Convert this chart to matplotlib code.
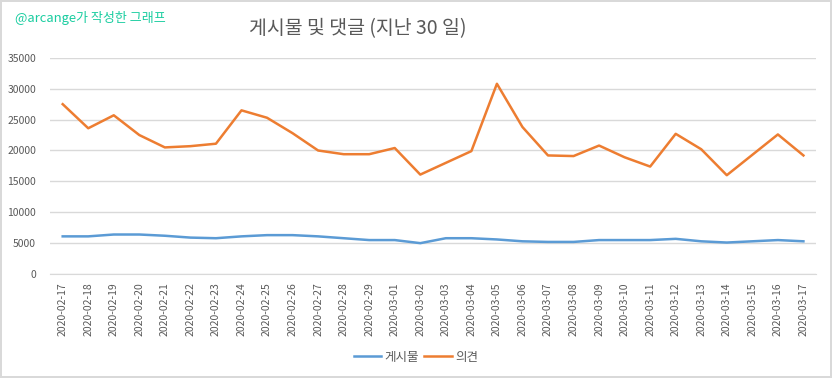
import matplotlib.pyplot as plt
import numpy as np

plt.rcParams['font.family'] = ['Noto Sans CJK KR', 'DejaVu Sans']

# Data
dates = ['2020-02-17', '2020-02-18', '2020-02-19', '2020-02-20', '2020-02-21',
         '2020-02-22', '2020-02-23', '2020-02-24', '2020-02-25', '2020-02-26',
         '2020-02-27', '2020-02-28', '2020-02-29', '2020-03-01', '2020-03-02',
         '2020-03-03', '2020-03-04', '2020-03-05', '2020-03-06', '2020-03-07',
         '2020-03-08', '2020-03-09', '2020-03-10', '2020-03-11', '2020-03-12',
         '2020-03-13', '2020-03-14', '2020-03-15', '2020-03-16', '2020-03-17']
posts = [6100, 6100, 6400, 6400, 6200, 5900, 5800, 6100, 6300, 6300,
         6100, 5800, 5500, 5500, 5000, 5800, 5800, 5600, 5300, 5200,
         5200, 5500, 5500, 5500, 5700, 5300, 5100, 5300, 5500, 5300]
comments = [27500, 23600, 25700, 22500, 20500, 20700, 21100, 26500, 25300, 22800,
            20000, 19400, 19400, 20400, 16100, 18000, 19900, 30800, 23800, 19200,
            19100, 20800, 18900, 17400, 22700, 20200, 16000, 19300, 22600, 19200]
yticks = [0, 5000, 10000, 15000, 20000, 25000, 30000, 35000]

text_color = '#595959'

fig = plt.figure(figsize=(8.32, 3.78), dpi=100)
fig.patch.set_edgecolor('#D9D9D9')
fig.patch.set_linewidth(1.5)
ax = fig.add_axes([0.06, 0.275, 0.921, 0.572])

x = np.arange(len(dates))
ax.plot(x, posts, color='#5B9BD5', linewidth=1.8, label='게시물')
ax.plot(x, comments, color='#ED7D31', linewidth=1.8, label='의견')

ax.set_xlim(-0.5, len(dates) - 0.5)
ax.set_ylim(0, 35000)
ax.set_yticks(yticks)
ax.set_yticklabels([str(v) for v in yticks])
ax.set_xticks(x)
ax.set_xticklabels(dates, rotation=90)
ax.tick_params(axis='both', length=0, labelsize=7.5, colors=text_color)
ax.tick_params(axis='x', pad=6)
ax.tick_params(axis='y', pad=10)
ax.grid(axis='y', color='#D9D9D9', linewidth=1)
ax.set_axisbelow(True)
for s in ['top', 'right', 'left']:
    ax.spines[s].set_visible(False)
ax.spines['bottom'].set_color('#D9D9D9')

# Title and watermark
fig.text(0.43, 0.925, '게시물 및 댓글 (지난 30 일)', fontsize=14, color=text_color,
         ha='center', va='center')
fig.text(0.018, 0.952, '@arcange가 작성한 그래프', fontsize=9.4, color='#1ACDA0',
         ha='left', va='center')

fig.legend(loc='center', bbox_to_anchor=(0.5, 0.055), ncol=2, frameon=False,
           fontsize=9, labelcolor=text_color, handlelength=2.2, columnspacing=0.4,
           handletextpad=0.3)

fig.savefig('out.png', dpi=100)
